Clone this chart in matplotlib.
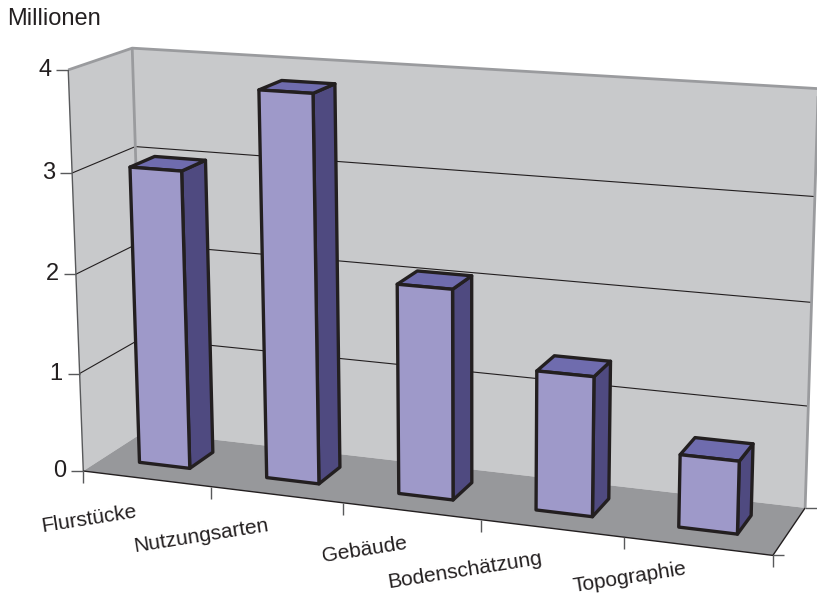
import numpy as np
import matplotlib
matplotlib.use("Agg")
import matplotlib.pyplot as plt
from matplotlib.patches import Polygon

plt.rcParams['font.family'] = ['Liberation Sans', 'DejaVu Sans']

categories = ["Flurstücke", "Nutzungsarten", "Gebäude", "Bodenschätzung", "Topographie"]
values = [3.0, 3.84, 2.07, 1.36, 0.7]
y_ticks = [0, 1, 2, 3, 4]
y_title = "Millionen"
label_centres = [(89, 519), (201, 536), (365, 550), (465, 570), (630, 578)]

# Camera calibration: box corners (category, depth, value) and their pixels
box_world = [(0, 0, 0), (0, 1, 0), (5, 1, 0), (5, 0, 0), (0, 0, 4), (0, 1, 4), (5, 1, 4),
             (0, 0, 3), (0, 1, 3), (5, 1, 3), (0, 0, 2), (5, 1, 2), (0, 0, 1), (5, 1, 1)]
box_pixel = [(84, 472), (143, 431), (804, 508), (773, 555), (67, 70), (133, 47), (816, 89),
             (72, 173), (136, 148), (816, 196), (76, 275), (814, 302), (80, 372), (808, 407)]


def fit_camera(world, pixel):
    A, b = [], []
    for (X, Y, Z), (u, v) in zip(world, pixel):
        A.append([X, Y, Z, 1, 0, 0, 0, 0, -u * X, -u * Y, -u * Z])
        A.append([0, 0, 0, 0, X, Y, Z, 1, -v * X, -v * Y, -v * Z])
        b += [u, v]
    p = np.linalg.lstsq(np.array(A, float), np.array(b, float), rcond=None)[0]
    return np.append(p, 1.0).reshape(3, 4)


P = fit_camera(box_world, box_pixel)


def pr(x, d, z):
    h = P @ np.array([x, d, z, 1.0])
    return h[0] / h[2], h[1] / h[2]


fig = plt.figure(figsize=(8.17, 5.98), dpi=100)
ax = fig.add_axes([0, 0, 1, 1])
ax.set_xlim(0, 817)
ax.set_ylim(598, 0)
ax.axis("off")

WALL, FLOOR, EDGE = "#c8c9cb", "#97989b", "#9a9b9e"
INK = "#231f20"
FRONT, TOP, SIDE = "#9e99c9", "#6f6cae", "#4f4a80"
n = len(categories)
zmax = y_ticks[-1]

ax.add_patch(Polygon([pr(0, 0, 0), pr(0, 1, 0), pr(0, 1, zmax), pr(0, 0, zmax)], fc=WALL, ec="none", zorder=1))
ax.add_patch(Polygon([pr(0, 1, 0), pr(n, 1, 0), pr(n, 1, zmax), pr(0, 1, zmax)], fc=WALL, ec="none", zorder=1))
ax.add_patch(Polygon([pr(0, 0, 0), pr(n, 0, 0), pr(n, 1, 0), pr(0, 1, 0)], fc=FLOOR, ec="none", zorder=1))


def line(pts, **kw):
    ax.plot([p[0] for p in pts], [p[1] for p in pts], solid_capstyle="butt", zorder=2, **kw)


for z in y_ticks[1:-1]:
    line([pr(0, 0, z), pr(0, 1, z), pr(n, 1, z)], color=INK, lw=0.8)
# Box outline
line([pr(0, 0, zmax), pr(0, 1, zmax), pr(n, 1, zmax)], color=EDGE, lw=2.0)
line([pr(0, 1, 0), pr(0, 1, zmax)], color=EDGE, lw=2.0)
line([pr(n, 1, 0), pr(n, 1, zmax)], color=EDGE, lw=2.0)
line([pr(0, 0, 0), pr(0, 0, zmax)], color="#58595b", lw=1.0)
line([pr(0, 0, 0), pr(n, 0, 0), pr(n, 1, 0)], color=INK, lw=1.0)

# Value ticks and labels
for z in y_ticks:
    x0, y0 = pr(0, 0, z)
    line([(x0 - 12, y0), (x0, y0)], color="#58595b", lw=1.0)
    ax.text(x0 - 17, y0, str(z), ha="right", va="center", fontsize=17, color=INK)
# Category ticks
for i in range(n + 1):
    x0, y0 = pr(i, 0, 0)
    line([(x0, y0), (x0, y0 + 12)], color="#58595b", lw=1.0)
xe, ye = pr(n, 0, 0)
line([(xe, ye), (xe + 11, ye)], color="#58595b", lw=1.0)
xe, ye = pr(n, 1, 0)
line([(xe, ye), (xe + 12, ye)], color="#58595b", lw=1.0)

# Bars
half, shift, d0, d1 = 0.2, -0.01, 0.32, 0.72
for i, v in enumerate(values):
    a, b = i + 0.5 + shift - half, i + 0.5 + shift + half
    style = dict(ec=INK, lw=2.4, joinstyle="round", zorder=3)
    ax.add_patch(Polygon([pr(b, d0, 0), pr(b, d1, 0), pr(b, d1, v), pr(b, d0, v)], fc=SIDE, **style))
    ax.add_patch(Polygon([pr(a, d0, v), pr(b, d0, v), pr(b, d1, v), pr(a, d1, v)], fc=TOP, **style))
    ax.add_patch(Polygon([pr(a, d0, 0), pr(b, d0, 0), pr(b, d0, v), pr(a, d0, v)], fc=FRONT, **style))

# Category labels
for c, (px, py) in zip(categories, label_centres):
    ax.text(px, py, c, ha="center", va="center", rotation=9, fontsize=15, color=INK)

ax.text(7, 19, y_title, ha="left", va="center", fontsize=17, color=INK)

fig.savefig("out.png", dpi=100)
